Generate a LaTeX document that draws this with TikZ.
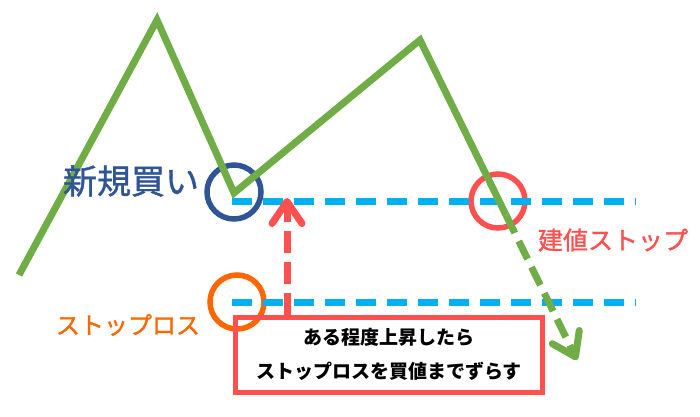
\documentclass[tikz,border=0pt]{standalone}
\usepackage{fontspec}
\setmainfont{Noto Sans CJK JP}
\newfontfamily\lblfont{Noto Sans CJK JP}[FakeBold=1.2]
\usetikzlibrary{arrows.meta}
\definecolor{cgreen}{HTML}{70AD47}
\definecolor{cblue}{HTML}{00B0F0}
\definecolor{cnavy}{HTML}{2F5597}
\definecolor{cred}{HTML}{FF5050}
\definecolor{corange}{HTML}{FF6600}
\tikzset{
  gline/.style={draw=cgreen, line width=7pt, line join=miter},
  bline/.style={draw=cblue, line width=7pt, dash pattern=on 20pt off 11pt},
  ring/.style={circle, line width=5.5pt, minimum size=54pt, inner sep=0pt},
  barb/.style={-{Straight Barb[length=22pt,width=30pt,line cap=round,line join=round]}},
  lbl/.style={inner sep=0pt}
}
\begin{document}
\begin{tikzpicture}[x=1pt,y=-1pt]
\useasboundingbox (0,0) rectangle (700,416);
% chart points
\coordinate (p0) at (19,275);
\coordinate (p1) at (157,20);
\coordinate (p2) at (234,193);
\coordinate (p3) at (420,40);
\coordinate (p4) at (506,215);
\coordinate (p5) at (577,360);
% level lines
\coordinate (u1) at (232,201);
\coordinate (u2) at (636,201);
\coordinate (l1) at (232,302);
\coordinate (l2) at (636,302);
% circles
\node[ring, draw=cnavy] (cbuy) at (234,192) {};
\node[ring, draw=corange] (cstop) at (237,302) {};
\node[ring, draw=cred] (cbe) at (498,201) {};
% dashed level lines
\draw[bline] (u1) -- (u2);
\draw[bline] (l1) -- (l2);
% price line
\draw[gline] (p0) -- (p1) -- (p2) -- (p3) -- (p4);
\draw[gline, barb, dash pattern=on 20pt off 9pt] (p4) -- (p5);
% labels
\node[lbl, text=cnavy, font=\lblfont\fontsize{34}{40}\selectfont] (tbuy) at (131,181) {新規買い};
\node[lbl, text=cred, font=\lblfont\fontsize{25}{30}\selectfont] (tbe) at (613,240) {建値ストップ};
\node[lbl, text=corange, font=\lblfont\fontsize{24}{30}\selectfont] (tstop) at (128,325) {ストップロス};
% box
\node[draw=cred, line width=5pt, minimum width=307pt, minimum height=75pt, inner sep=0pt,
      align=center, font=\bfseries\fontsize{19}{34}\selectfont] (box) at (389,354.5)
      {ある程度上昇したら\\ストップロスを買値までずらす};
% red dashed arrow
\coordinate (rt) at (287,198);
\draw[draw=cred, line width=7pt, barb, dash pattern=on 22pt off 9pt] (rt |- box.north) -- (rt);
\end{tikzpicture}
\end{document}
